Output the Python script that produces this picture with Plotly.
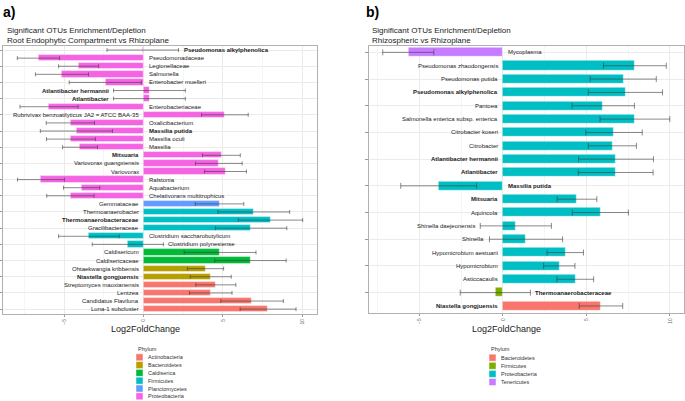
import plotly.graph_objects as go

W, H = 685, 401

# ---------------- Panel a data ----------------
names_a = ["Pseudomonas alkylphenolica", "Pseudomonadaceae", "Legionellaceae", "Salmonella",
           "Enterobacter muelleri", "Atlantibacter hermannii", "Atlantibacter", "Enterobacteriaceae",
           "Rubrivivax benzoatilyticus JA2 = ATCC BAA-35", "Oxalicibacterium", "Massilia putida",
           "Massilia oculi", "Massilia", "Mitsuaria", "Variovorax guangxiensis", "Variovorax",
           "Ralstonia", "Aquabacterium", "Chelativorans multitrophicus", "Gemmataceae",
           "Thermoanaerobacter", "Thermoanaerobacteraceae", "Gracilibacteraceae",
           "Clostridium saccharobutylicum", "Clostridium polynesiense", "Caldisericum",
           "Caldisericaceae", "Ohtaekwangia kribbensis", "Niastella gongjuensis",
           "Streptomyces maoxianensis", "Lentzea", "Candidatus Flaviluna", "Luna-1 subcluster"]
phylum_a = ["Proteobacteria"] * 19 + ["Planctomycetes"] + ["Firmicutes"] * 5 + ["Caldiserica"] * 2 \
           + ["Bacteroidetes"] * 2 + ["Actinobacteria"] * 4
lfc_a = [-0.05, -6.62, -4.09, -5.14, -2.41, 0.37, 0.37, -5.95, 5.12, -4.61, -4.23, -4.57, -4.0,
         4.9, 4.74, 5.16, -6.46, -3.9, -4.61, 4.78, 6.94, 7.99, 6.77, -3.44, -0.99, 4.82, 6.73,
         3.9, 4.23, 4.55, 4.23, 6.83, 7.84]
se_a = [2.25, 1.33, 1.26, 1.67, 2.27, 2.26, 2.26, 1.83, 1.47, 1.52, 2.27, 1.54, 1.1, 1.19, 1.47,
        1.32, 1.48, 1.14, 1.49, 1.53, 2.26, 2.03, 2.25, 1.91, 2.24, 2.26, 2.25, 1.14, 1.29, 1.26,
        1.34, 1.97, 1.76]
bold_a = ["Pseudomonas alkylphenolica", "Atlantibacter hermannii", "Atlantibacter", "Massilia putida",
          "Mitsuaria", "Thermoanaerobacteraceae", "Niastella gongjuensis"]
levels_a = ["Actinobacteria", "Bacteroidetes", "Caldiserica", "Firmicutes", "Planctomycetes", "Proteobacteria"]
colors_a = ["#F8766D", "#B79F00", "#00BA38", "#00BFC4", "#619CFF", "#F564E3"]

# ---------------- Panel b data ----------------
names_b = ["Mycoplasma", "Pseudomonas zhaodongensis", "Pseudomonas putida", "Pseudomonas alkylphenolica",
           "Pantoea", "Salmonella enterica subsp. enterica", "Citrobacter koseri", "Citrobacter",
           "Atlantibacter hermannii", "Atlantibacter", "Massilia putida", "Mitsuaria", "Aquincola",
           "Shinella daejeonensis", "Shinella", "Hypomicrobium aestuarii", "Hypomicrobium",
           "Asticcacaulis", "Thermoanaerobacteraceae", "Niastella gongjuensis"]
phylum_b = ["Tenericutes"] + ["Proteobacteria"] * 17 + ["Firmicutes", "Bacteroidetes"]
lfc_b = [-5.67, 7.9, 7.2, 7.33, 6.0, 7.9, 6.65, 6.55, 6.77, 6.75, -3.85, 4.43, 5.83, 0.77, 1.38,
         3.73, 3.37, 4.33, -0.46, 5.87]
se_b = [1.53, 1.88, 1.98, 2.22, 1.87, 2.09, 1.69, 1.44, 2.24, 2.24, 2.27, 1.19, 1.68, 2.13, 2.19,
        1.09, 0.94, 1.1, 2.1, 1.3]
bold_b = ["Pseudomonas alkylphenolica", "Atlantibacter hermannii", "Atlantibacter", "Massilia putida",
          "Mitsuaria", "Thermoanaerobacteraceae", "Niastella gongjuensis"]
levels_b = ["Bacteroidetes", "Firmicutes", "Proteobacteria", "Tenericutes"]
colors_b = ["#F8766D", "#7CAE00", "#00BFC4", "#C77CFF"]

ticks = [-5, 0, 5, 10]
FONT = "Liberation Sans, Arial, sans-serif"


def px(x):
    return x / W


def py(y):
    return 1 - y / H


fig = go.Figure()
annotations = []
shapes = []


def add_panel(names, phylum, lfc, se, bold, levels, colors, xa, ya, width, capw):
    cmap = dict(zip(levels, colors))
    fig.add_trace(go.Bar(
        x=lfc, y=names, orientation="h", xaxis=xa, yaxis=ya,
        marker=dict(color=[cmap[p] for p in phylum],
                    line=dict(color="rgba(255,255,255,0.55)", width=0.8)),
        width=width,
        error_x=dict(type="data", array=se, symmetric=True, color="rgba(60,60,60,0.6)",
                     thickness=1, width=capw),
        showlegend=False, hoverinfo="x+y",
    ))
    for n, v, s in zip(names, lfc, se):
        txt = f"<b>{n}</b>" if n in bold else n
        if v < 0:
            xpos, anchor, shift = max(0, v + s), "left", 3
        else:
            xpos, anchor, shift = min(0, v - s), "right", -3
        annotations.append(dict(x=xpos, y=n, xref=xa, yref=ya, text=txt, showarrow=False,
                                xanchor=anchor, xshift=shift, yanchor="middle",
                                font=dict(size=6, color="#1a1a1a", family=FONT)))


add_panel(names_a, phylum_a, lfc_a, se_a, bold_a, levels_a, colors_a, "x", "y", 0.78, 2)
add_panel(names_b, phylum_b, lfc_b, se_b, bold_b, levels_b, colors_b, "x2", "y2", 0.68, 3)

axis_common = dict(showline=True, linecolor="#b0b0b0", linewidth=1, mirror=True,
                   gridcolor="#ebebeb", gridwidth=0.6, zeroline=False)

fig.update_layout(
    width=W, height=H, margin=dict(l=0, r=0, t=0, b=0),
    paper_bgcolor="white", plot_bgcolor="white",
    font=dict(family=FONT),
    bargap=0,
    xaxis=dict(domain=[px(2.7), px(317)], range=[-8.87, 10.92], tickvals=ticks, tickangle=-90,
               tickfont=dict(size=5, color="#666666"), ticks="outside", ticklen=2, tickcolor="#999",
               minor=dict(dtick=2.5, tick0=0, showgrid=True, gridcolor="#f5f5f5"), anchor="y",
               **axis_common),
    yaxis=dict(domain=[py(314), py(46)], type="category", categoryorder="array",
               categoryarray=names_a, range=[len(names_a) - 1 + 0.6, -0.5], showticklabels=False,
               ticks="outside", ticklen=2.5, tickcolor="#999", anchor="x", **axis_common),
    xaxis2=dict(domain=[px(368.7), px(684)], range=[-8.04, 10.84], tickvals=ticks, tickangle=-90,
                tickfont=dict(size=5, color="#666666"), ticks="outside", ticklen=2, tickcolor="#999",
                minor=dict(dtick=2.5, tick0=0, showgrid=True, gridcolor="#f5f5f5"), anchor="y2",
                **axis_common),
    yaxis2=dict(domain=[py(313.3), py(45.7)], type="category", categoryorder="array",
                categoryarray=names_b, range=[len(names_b) - 1 + 0.55, -0.5], showticklabels=False,
                ticks="outside", ticklen=2.5, tickcolor="#999", anchor="x2", **axis_common),
)

# Panel letters, titles, axis titles
for lx, letter in [(1, "a)"), (364, "b)")]:
    annotations.append(dict(x=px(lx), y=py(2), xref="paper", yref="paper", text=f"<b>{letter}</b>",
                            showarrow=False, xanchor="left", yanchor="top",
                            font=dict(size=14, color="black", family=FONT)))
for tx, sub in [(4.5, "Root Endophytic Compartment vs Rhizoplane"), (370, "Rhizospheric vs Rhizoplane")]:
    annotations.append(dict(x=px(tx), y=py(24), xref="paper", yref="paper",
                            text=f"Significant OTUs Enrichment/Depletion<br>{sub}", align="left",
                            showarrow=False, xanchor="left", yanchor="top",
                            font=dict(size=8, color="#222222", family=FONT)))
for cx in [145, 506]:
    annotations.append(dict(x=px(cx), y=py(328.7), xref="paper", yref="paper", text="Log2FoldChange",
                            showarrow=False, xanchor="center", yanchor="middle",
                            font=dict(size=9, color="#222222", family=FONT)))


# Legends (drawn manually, ggplot-style)
def add_legend(x0, levels, colors, first_y, step):
    annotations.append(dict(x=px(x0), y=py(348.7), xref="paper", yref="paper", text="Phylum",
                            showarrow=False, xanchor="left", yanchor="middle",
                            font=dict(size=5.5, color="#333333", family=FONT)))
    for i, (lv, c) in enumerate(zip(levels, colors)):
        cy = first_y + i * step
        shapes.append(dict(type="rect", xref="paper", yref="paper", x0=px(x0), x1=px(x0 + 7),
                           y0=py(cy + 3.5), y1=py(cy - 3.5), fillcolor=c,
                           line=dict(color="rgba(255,255,255,0.6)", width=0.8)))
        annotations.append(dict(x=px(x0 + 10), y=py(cy), xref="paper", yref="paper", text=lv,
                                showarrow=False, xanchor="left", yanchor="middle",
                                font=dict(size=5.5, color="#333333", family=FONT)))


add_legend(136, levels_a, colors_a, 357.3, 7.8)
add_legend(489, levels_b, colors_b, 357.7, 8.1)

fig.update_layout(annotations=annotations, shapes=shapes)
fig.write_html("out.html", config={"displayModeBar": False},
               post_script="document.body.style.margin='0';document.body.style.overflow='hidden';")
